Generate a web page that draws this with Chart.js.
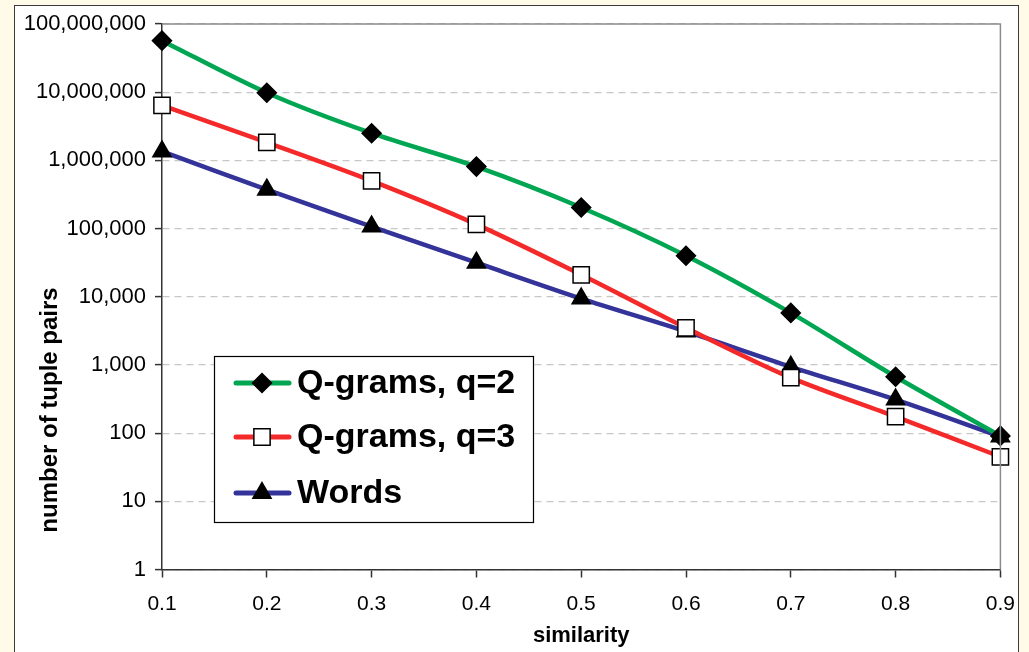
<!DOCTYPE html>
<html>
<head>
<meta charset="utf-8">
<script src="https://cdn.jsdelivr.net/npm/chart.js@4.4.1/dist/chart.umd.min.js"></script>
<style>
html,body{margin:0;padding:0;background:#fffbe8;}
canvas{display:block;}
</style>
</head>
<body>
<canvas id="c" width="1029" height="652"></canvas>
<script>
// ---- data ----
const similarity = ['0.1','0.2','0.3','0.4','0.5','0.6','0.7','0.8','0.9'];
const qgrams2 = [57000000, 9800000, 2500000, 810000, 204000, 40000, 5800, 670, 91];
const qgrams3 = [6400000, 1830000, 500000, 115000, 21000, 3500, 650, 174, 45];
const words   = [1350000, 372000, 107000, 31600, 9400, 3100, 940, 310, 89];
const yTicks  = [1, 10, 100, 1000, 10000, 100000, 1000000, 10000000, 100000000];
const seriesNames = ['Q-grams, q=2', 'Q-grams, q=3', 'Words'];
const xTitle = 'similarity';
const yTitle = 'number of tuple pairs';

const GREEN = '#00a651', RED = '#f42a2a', BLUE = '#333399';
const FONT = '"Liberation Sans", Arial, sans-serif';

const panelPlugin = {
  id: 'panel',
  beforeDraw(chart) {
    const ctx = chart.ctx;
    ctx.save();
    ctx.fillStyle = '#fffbe8';
    ctx.fillRect(0, 0, chart.width, chart.height);
    ctx.fillStyle = '#ffffff';
    ctx.fillRect(14.5, 5.5, 1004, 660);
    ctx.strokeStyle = '#3a3a3a';
    ctx.lineWidth = 1;
    ctx.strokeRect(14.5, 5.5, 1004, 660);
    ctx.restore();
  },
  afterDatasetsDraw(chart) {
    const ctx = chart.ctx, a = chart.chartArea;
    ctx.save();
    ctx.strokeStyle = '#8c8c8c';
    ctx.lineWidth = 1.5;
    ctx.beginPath();
    ctx.moveTo(a.left, a.top);
    ctx.lineTo(a.right, a.top);
    ctx.lineTo(a.right, a.bottom);
    ctx.stroke();
    ctx.restore();
  },
  afterDraw(chart) {
    // y-axis title, placed as in the reference (lower than axis centre)
    const ctx = chart.ctx;
    ctx.save();
    ctx.translate(57, 410);
    ctx.rotate(-Math.PI / 2);
    ctx.fillStyle = '#000';
    ctx.font = 'bold 24px ' + FONT;
    ctx.textAlign = 'center';
    ctx.textBaseline = 'alphabetic';
    ctx.fillText(yTitle, 0, 0);
    ctx.restore();
  }
};

const legendPlugin = {
  id: 'boxLegend',
  afterDraw(chart) {
    const ctx = chart.ctx;
    ctx.save();
    ctx.fillStyle = '#fff';
    ctx.fillRect(214, 356, 319, 166);
    ctx.strokeStyle = '#000';
    ctx.lineWidth = 1.2;
    ctx.strokeRect(214.5, 356.5, 319, 166);
    const rows = [383, 437, 493];
    chart.data.datasets.forEach((ds, i) => {
      const y = rows[i];
      ctx.strokeStyle = ds.borderColor;
      ctx.lineWidth = 5;
      ctx.lineCap = 'round';
      ctx.beginPath();
      ctx.moveTo(236, y);
      ctx.lineTo(289, y);
      ctx.stroke();
      ctx.fillStyle = ds.pointBackgroundColor;
      ctx.strokeStyle = ds.pointBorderColor;
      ctx.lineWidth = ds.pointBorderWidth;
      ctx.lineCap = 'butt';
      Chart.helpers.drawPoint(ctx, {
        pointStyle: ds.pointStyle,
        radius: ds.pointRadius,
        borderWidth: ds.pointBorderWidth,
        rotation: 0
      }, 262, y);
      ctx.fillStyle = '#000';
      ctx.font = 'bold 34px ' + FONT;
      ctx.textBaseline = 'middle';
      ctx.textAlign = 'left';
      ctx.fillText(seriesNames[i], 297, y + 1);
    });
    ctx.restore();
  }
};

const mk = (label, data, color, style, radius, bg) => ({
  label, data,
  borderColor: color,
  borderWidth: 4.5,
  tension: 0.3,
  pointStyle: style,
  pointRadius: radius,
  pointHoverRadius: radius,
  pointBackgroundColor: bg,
  pointBorderColor: '#000',
  pointBorderWidth: 1.5,
  fill: false
});

new Chart(document.getElementById('c'), {
  type: 'line',
  data: {
    labels: similarity,
    datasets: [
      mk(seriesNames[0], qgrams2, GREEN, 'rectRot', 9.5, '#000'),
      mk(seriesNames[1], qgrams3, RED, 'rect', 11.5, '#fff'),
      mk(seriesNames[2], words, BLUE, 'triangle', 10.5, '#000')
    ]
  },
  options: {
    responsive: false,
    animation: false,
    events: [],
    layout: { padding: { left: 20, right: 27, top: 24, bottom: 0 } },
    plugins: {
      legend: { display: false },
      tooltip: { enabled: false }
    },
    scales: {
      x: {
        type: 'category',
        offset: false,
        grid: { drawOnChartArea: false, drawTicks: true, tickLength: 8, tickColor: '#333', tickWidth: 1.5 },
        border: { color: '#333', width: 1.5 },
        ticks: {
          color: '#000',
          font: { family: FONT, size: 21 },
          padding: 14,
          maxRotation: 0,
          autoSkip: false
        },
        title: {
          display: true,
          text: xTitle,
          color: '#000',
          font: { family: FONT, size: 22, weight: 'bold' },
          padding: { top: 2, bottom: 3 }
        },
        afterFit(s) { s.height = 82.5; }
      },
      y: {
        type: 'logarithmic',
        min: 1,
        max: 100000000,
        afterBuildTicks(s) { s.ticks = yTicks.map(v => ({ value: v })); },
        grid: {
          color: '#c8c8c8', lineWidth: 1.2,
          drawTicks: true, tickLength: 7, tickColor: '#333', tickWidth: 1.5
        },
        border: { color: '#333', width: 1.5, dash: [7, 5] },
        ticks: {
          color: '#000',
          font: { family: FONT, size: 22 },
          padding: 9,
          callback: (v) => Number(v).toLocaleString('en-US')
        },
        title: { display: false },
        afterFit(s) { s.width = 142; }
      }
    }
  },
  plugins: [panelPlugin, legendPlugin]
});
</script>
</body>
</html>
